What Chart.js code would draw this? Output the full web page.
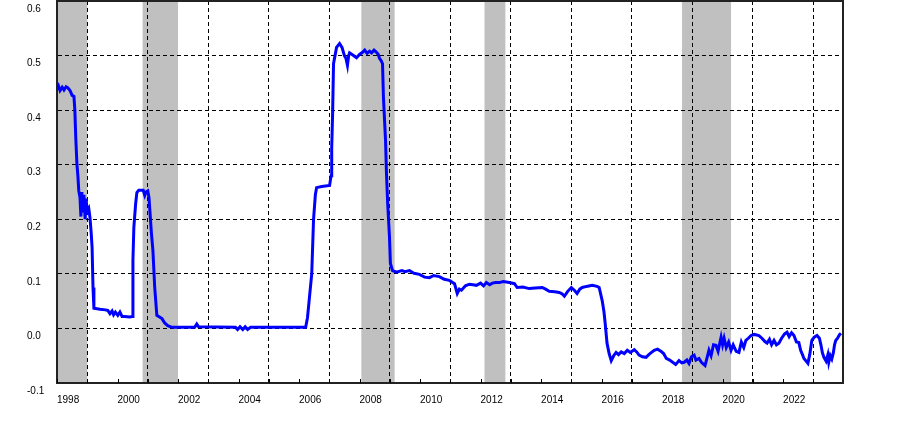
<!DOCTYPE html>
<html>
<head>
<meta charset="utf-8">
<script src="https://cdn.jsdelivr.net/npm/chart.js@4/dist/chart.umd.min.js"></script>
<style>
  body { margin: 0; background: #fff; }
  canvas { display: block; }
</style>
</head>
<body>
<canvas id="rateChart" width="900" height="422"></canvas>
<script>
// dates as decimal years, overnight rate in %
const dates = [
  1998.00, 1998.05, 1998.10, 1998.17, 1998.23, 1998.30, 1998.36, 1998.43, 1998.50, 1998.56,
  1998.59, 1998.62, 1998.66, 1998.69, 1998.72, 1998.76, 1998.79, 1998.82, 1998.86, 1998.89,
  1998.93, 1998.96, 1999.00, 1999.05, 1999.09, 1999.13, 1999.16, 1999.19, 1999.22, 1999.42,
  1999.60, 1999.68, 1999.75, 1999.82, 1999.87, 1999.93, 2000.01, 2000.08, 2000.15, 2000.24,
  2000.40, 2000.48, 2000.51, 2000.54, 2000.60, 2000.64, 2000.70, 2000.85, 2000.90, 2000.94,
  2001.00, 2001.04, 2001.07, 2001.12, 2001.17, 2001.23, 2001.30, 2001.47, 2001.56, 2001.66,
  2001.80, 2002.55, 2002.62, 2002.68, 2003.90, 2003.97, 2004.05, 2004.14, 2004.22, 2004.30,
  2004.40, 2006.22, 2006.28, 2006.35, 2006.42, 2006.48, 2006.54, 2006.58, 2006.75, 2007.01,
  2007.06, 2007.08, 2007.11, 2007.14, 2007.24, 2007.34, 2007.42, 2007.50, 2007.55, 2007.60,
  2007.64, 2007.67, 2007.80, 2007.90, 2008.00, 2008.10, 2008.17, 2008.25, 2008.33, 2008.40,
  2008.48, 2008.56, 2008.62, 2008.66, 2008.72, 2008.76, 2008.79, 2008.86, 2008.89, 2008.93,
  2008.99, 2009.02, 2009.09, 2009.22, 2009.40, 2009.50, 2009.65, 2009.80, 2009.98, 2010.15,
  2010.31, 2010.45, 2010.64, 2010.80, 2010.97, 2011.14, 2011.20, 2011.23, 2011.30, 2011.37,
  2011.50, 2011.63, 2011.75, 2011.86, 2012.00, 2012.10, 2012.19, 2012.30, 2012.39, 2012.50,
  2012.62, 2012.75, 2012.95, 2013.12, 2013.21, 2013.40, 2013.61, 2013.80, 2014.04, 2014.15,
  2014.27, 2014.45, 2014.60, 2014.70, 2014.77, 2014.88, 2015.00, 2015.10, 2015.19, 2015.28,
  2015.36, 2015.50, 2015.69, 2015.85, 2015.92, 2016.02, 2016.08, 2016.12, 2016.18, 2016.25,
  2016.32, 2016.40, 2016.48, 2016.56, 2016.65, 2016.75, 2016.85, 2016.95, 2017.08, 2017.16,
  2017.24, 2017.35, 2017.47, 2017.56, 2017.65, 2017.74, 2017.85, 2017.97, 2018.05, 2018.14,
  2018.25, 2018.45, 2018.56, 2018.65, 2018.73, 2018.82, 2018.89, 2018.97, 2019.06, 2019.12,
  2019.22, 2019.30, 2019.42, 2019.55, 2019.62, 2019.70, 2019.78, 2019.85, 2019.95, 2020.00,
  2020.05, 2020.12, 2020.20, 2020.28, 2020.35, 2020.45, 2020.54, 2020.62, 2020.70, 2020.77,
  2020.85, 2020.94, 2021.05, 2021.20, 2021.30, 2021.40, 2021.47, 2021.55, 2021.62, 2021.70,
  2021.78, 2021.86, 2021.95, 2022.05, 2022.13, 2022.20, 2022.28, 2022.36, 2022.44, 2022.52,
  2022.58, 2022.64, 2022.69, 2022.76, 2022.82, 2022.88, 2022.95, 2023.03, 2023.12, 2023.20,
  2023.25, 2023.30, 2023.35, 2023.42, 2023.48, 2023.51, 2023.56, 2023.61, 2023.66, 2023.70,
  2023.74, 2023.80, 2023.86, 2023.91
];
const rate = [
  0.438, 0.444, 0.436, 0.442, 0.437, 0.443, 0.441, 0.436, 0.427, 0.425,
  0.400, 0.350, 0.300, 0.280, 0.252, 0.240, 0.205, 0.250, 0.215, 0.245,
  0.200, 0.238, 0.215, 0.220, 0.203, 0.175, 0.148, 0.075, 0.037, 0.035,
  0.034, 0.033, 0.027, 0.032, 0.025, 0.030, 0.024, 0.030, 0.022, 0.022,
  0.021, 0.022, 0.125, 0.185, 0.229, 0.249, 0.253, 0.253, 0.244, 0.250,
  0.252, 0.240, 0.216, 0.175, 0.143, 0.075, 0.024, 0.018, 0.010, 0.005,
  0.002, 0.002, 0.008, 0.003, 0.002, -0.002, 0.003, -0.002, 0.003, -0.002,
  0.002, 0.002, 0.020, 0.060, 0.100, 0.200, 0.245, 0.258, 0.260, 0.262,
  0.280, 0.330, 0.394, 0.485, 0.515, 0.522, 0.515, 0.500, 0.495, 0.482,
  0.500, 0.505, 0.500, 0.496, 0.502, 0.506, 0.510, 0.504, 0.508, 0.505,
  0.510, 0.506, 0.502, 0.495, 0.490, 0.485, 0.423, 0.344, 0.284, 0.229,
  0.167, 0.119, 0.106, 0.103, 0.106, 0.104, 0.106, 0.101, 0.099, 0.094,
  0.093, 0.097, 0.095, 0.090, 0.088, 0.082, 0.070, 0.064, 0.072, 0.070,
  0.078, 0.081, 0.080, 0.079, 0.083, 0.078, 0.084, 0.080, 0.083, 0.084,
  0.084, 0.086, 0.084, 0.082, 0.075, 0.076, 0.073, 0.074, 0.075, 0.072,
  0.068, 0.067, 0.066, 0.063, 0.059, 0.068, 0.075, 0.070, 0.064, 0.072,
  0.075, 0.077, 0.079, 0.077, 0.075, 0.051, 0.030, 0.009, -0.027, -0.046,
  -0.059, -0.050, -0.044, -0.048, -0.043, -0.046, -0.040, -0.044, -0.039, -0.043,
  -0.049, -0.052, -0.053, -0.048, -0.044, -0.040, -0.038, -0.042, -0.046, -0.055,
  -0.058, -0.066, -0.059, -0.063, -0.062, -0.058, -0.064, -0.052, -0.049, -0.058,
  -0.055, -0.062, -0.068, -0.040, -0.050, -0.030, -0.031, -0.042, -0.016, -0.030,
  -0.018, -0.035, -0.025, -0.040, -0.030, -0.042, -0.044, -0.025, -0.035, -0.022,
  -0.018, -0.013, -0.011, -0.013, -0.018, -0.024, -0.027, -0.020, -0.030, -0.022,
  -0.030, -0.027, -0.018, -0.010, -0.007, -0.015, -0.008, -0.013, -0.025, -0.026,
  -0.040, -0.048, -0.055, -0.060, -0.064, -0.048, -0.022, -0.016, -0.013, -0.018,
  -0.030, -0.045, -0.053, -0.060, -0.048, -0.062, -0.050, -0.056, -0.045, -0.030,
  -0.022, -0.018, -0.012, -0.009
];

// shaded periods (decimal years)
const recStart = [1997.83, 2000.83, 2008.06, 2012.13, 2018.66];
const recEnd = [1999.00, 2002.00, 2009.16, 2012.82, 2020.28];

const yTicks = [-0.1, 0.0, 0.1, 0.2, 0.3, 0.4, 0.5, 0.6];

const points = dates.map((d, i) => ({ x: d, y: rate[i] }));

// shading behind the grid, frame + inner tick marks on top
const framePlugin = {
    id: "frame",
    beforeDraw(chart) {
        const { ctx, chartArea: a, scales: { x } } = chart;
        ctx.save();
        ctx.fillStyle = "#c0c0c0";
        recStart.forEach((s, i) => {
            const x1 = Math.max(x.getPixelForValue(s), a.left);
            const x2 = Math.min(x.getPixelForValue(recEnd[i]), a.right);
            if (x2 > x1) ctx.fillRect(x1, a.top, x2 - x1, a.bottom - a.top);
        });
        ctx.restore();
    },
    afterDraw(chart) {
        const { ctx, chartArea: a, scales: { x } } = chart;
        ctx.save();
        ctx.strokeStyle = "#000";
        ctx.lineWidth = 1;
        x.ticks.forEach(t => {
            const px = Math.round(x.getPixelForValue(t.value)) + 0.5;
            ctx.beginPath();
            ctx.moveTo(px, a.bottom);
            ctx.lineTo(px, a.bottom - 4);
            ctx.stroke();
        });
        ctx.strokeStyle = "#222";
        ctx.lineWidth = 2;
        ctx.beginPath();
        ctx.moveTo(a.left, a.top);
        ctx.lineTo(a.right, a.top);
        ctx.lineTo(a.right, a.bottom);
        ctx.stroke();
        ctx.restore();
    }
};

const tickFont = { family: "'Liberation Sans', Arial, sans-serif", size: 10 };

new Chart(document.getElementById("rateChart"), {
    type: "line",
    data: {
        datasets: [{
            data: points,
            borderColor: "#0000ff",
            borderWidth: 3,
            pointRadius: 0,
            tension: 0,
            fill: false
        }]
    },
    options: {
        responsive: false,
        animation: false,
        layout: { padding: { top: 1, right: 57, left: 27, bottom: 0 } },
        plugins: {
            legend: { display: false },
            tooltip: { enabled: false }
        },
        scales: {
            x: {
                type: "linear",
                min: 1998,
                max: 2023.98,
                afterFit: s => { s.height = 39; },
                ticks: {
                    stepSize: 1,
                    includeBounds: false,
                    autoSkip: false,
                    maxRotation: 0,
                    align: "start",
                    padding: 11,
                    color: "#000",
                    font: tickFont,
                    callback: v => (v % 2 === 0 ? String(v) : "")
                },
                grid: {
                    color: c => (c.tick && Math.abs(c.tick.value % 2) === 1 ? "#000" : "rgba(0,0,0,0)"),
                    lineWidth: 1,
                    drawTicks: false
                },
                border: { display: true, color: "#222", width: 2, dash: [4, 3] }
            },
            y: {
                min: -0.1,
                max: 0.6,
                afterFit: s => { s.width = 30; },
                afterBuildTicks: s => { s.ticks = yTicks.map(v => ({ value: v })); },
                ticks: {
                    align: "start",
                    crossAlign: "far",
                    padding: 0,
                    labelOffset: 3,
                    color: "#000",
                    font: tickFont,
                    callback: v => v.toFixed(1)
                },
                grid: { color: "#000", lineWidth: 1, drawTicks: false },
                border: { display: true, color: "#222", width: 2, dash: [4, 3] }
            }
        }
    },
    plugins: [framePlugin]
});
</script>
</body>
</html>
